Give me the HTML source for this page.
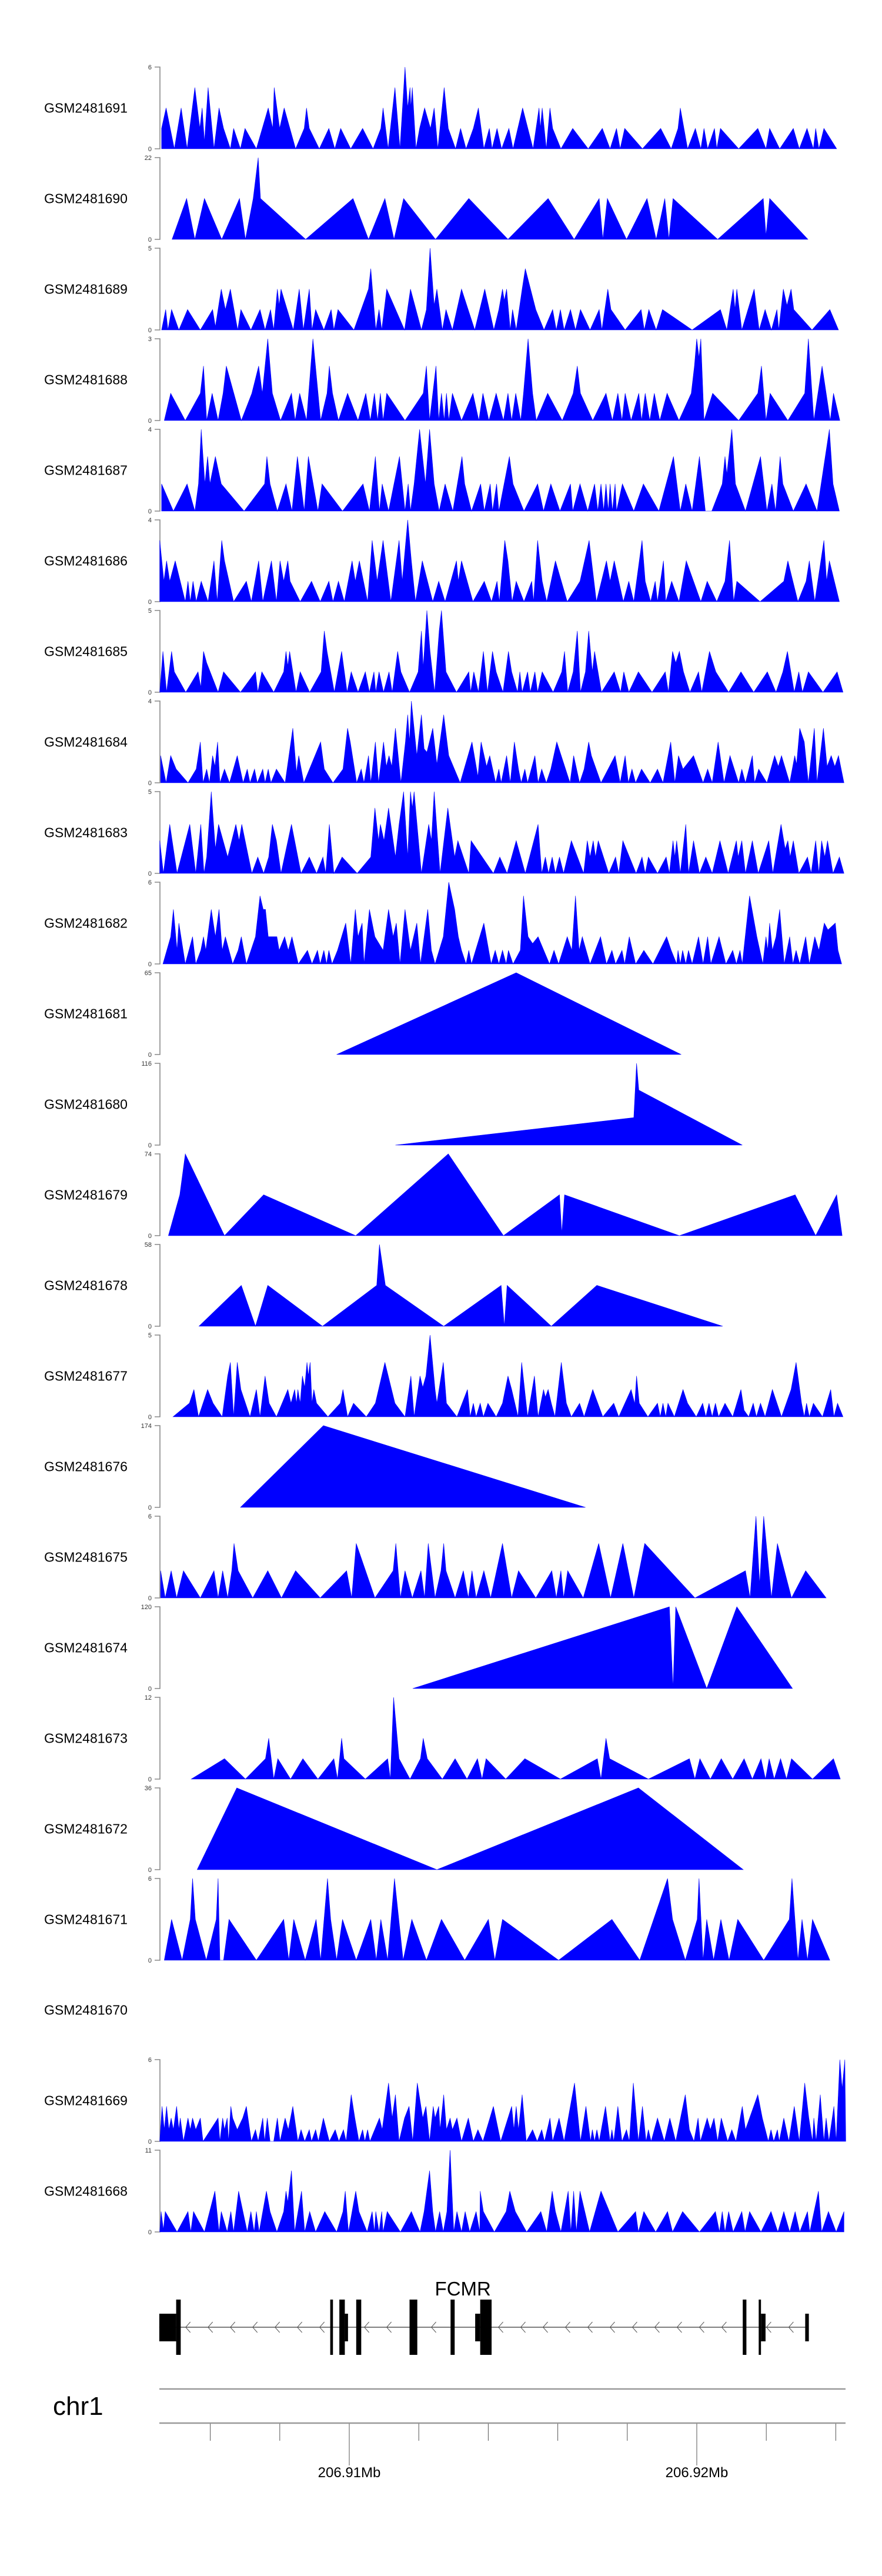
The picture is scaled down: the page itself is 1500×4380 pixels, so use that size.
<!DOCTYPE html>
<html><head><meta charset="utf-8"><title>Coverage tracks FCMR</title>
<style>
html,body{margin:0;padding:0;background:#fff;}
svg{display:block;}
text{font-family:"Liberation Sans",Arial,sans-serif;}
</style></head>
<body>
<svg id="chart" xmlns="http://www.w3.org/2000/svg" width="1500" height="4380" viewBox="0 0 1500 4380"></svg>
<script>
// ---- genomic binning of the coverage data ----
const BIN_START = 206904179;   // bp of bin 0
const BIN_SIZE = 13.117;       // bp per bin

// ---- track identifiers, y-maxima and axis labels ----
const trackIds = ["GSM2481691","GSM2481690","GSM2481689","GSM2481688","GSM2481687","GSM2481686","GSM2481685","GSM2481684","GSM2481683","GSM2481682","GSM2481681","GSM2481680","GSM2481679","GSM2481678","GSM2481677","GSM2481676","GSM2481675","GSM2481674","GSM2481673","GSM2481672","GSM2481671","GSM2481670","GSM2481669","GSM2481668"];
const trackMax = [6,22,5,3,4,4,5,4,5,6,65,116,74,58,5,174,6,120,12,36,6,0,7,11];
const trackMaxLabel = ["6","22","5","3","4","4","5","4","5","6","65","116","74","58","5","174","6","120","12","36","6","","6","11"];

// ---- coverage series: [bin, value] ----
const cov1691 = [[32,1.5],[42,3],[60,0],[75,3],[88,0],[105,4.5],[116,1.5],[121,3],[126,0.5],[134,4.5],[147,0],[158,3],[168,1.5],[183,0],[190,1.5],[205,0],[215,1.5],[240,0],[266,3],[276,1.5],[279,4.5],[291,1.5],[301,3],[326,0],[345,1.5],[350,3],[356,1.5],[378,0],[399,1.5],[412,0],[425,1.5],[447,0],[473,1.5],[496,0],[513,1.5],[518,3],[529,0],[544,4.5],[555,0],[566,6],[572,3],[577,4.5],[579,3],[582,4.5],[590,0],[598,1.5],[609,3],[622,1.5],[630,3],[638,0],[652,4.5],[661,1.5],[677,0],[688,1.5],[700,0],[716,1.5],[727,3],[739,0],[751,1.5],[757,0],[768,1.5],[778,0],[794,1.5],[803,0],[824,3],[847,0],[860,3],[863,1.5],[867,3],[876,0],[884,3],[890,1.5],[908,0],[934,1.5],[968,0],[999,1.5],[1016,0],[1030,1.5],[1038,0],[1048,1.5],[1087,0],[1127,1.5],[1150,0],[1165,1.5],[1170,3],[1186,0],[1203,1.5],[1215,0],[1222,1.5],[1230,0],[1245,1.5],[1250,0],[1258,1.5],[1298,0],[1340,1.5],[1358,0],[1366,1.5],[1388,0],[1418,1.5],[1431,0],[1448,1.5],[1462,0],[1467,1.5],[1474,0],[1485,1.5],[1513,0]];
const cov1690 = [[55,0],[87,11],[105,0],[126,11],[164,0],[203,11],[216,0],[233,11],[244,22],[249,11],[348,0],[452,11],[486,0],[522,11],[542,0],[563,11],[633,0],[706,11],[792,0],[880,11],[937,0],[992,11],[1000,0],[1010,11],[1052,0],[1097,11],[1117,0],[1136,11],[1145,0],[1154,11],[1252,0],[1352,11],[1358,1],[1366,11],[1450,0]];
const cov1689 = [[32,0],[41,1.25],[46,0],[54,1.25],[70,0],[89,1.25],[117,0],[144,1.25],[150,0.2],[163,2.5],[172,1.25],[183,2.5],[199,0],[206,1.25],[228,0],[248,1.25],[259,0],[271,1.25],[278,0],[286,2.5],[290,1.5],[294,2.5],[321,0],[334,2.5],[343,0],[356,2.5],[362,0],[370,1.25],[388,0],[404,1.25],[410,0],[419,1.25],[454,0],[486,2.5],[491,3.75],[502,0],[509,1.25],[515,0],[526,2.5],[565,0],[578,2.5],[602,0],[613,1.25],[621,5],[630,1.5],[636,2.5],[648,0],[656,1.25],[670,0],[690,2.5],[719,0],[741,2.5],[761,0],[772,1.25],[780,2.5],[784,1.8],[789,2.5],[797,0],[802,1.25],[810,0],[823,2.5],[830,3.75],[853,1.25],[871,0],[890,1.25],[898,0],[907,1.25],[915,0],[929,1.25],[940,0],[951,1.25],[972,0],[992,1.25],[998,0],[1011,2.5],[1018,1.25],[1049,0],[1084,1.25],[1091,0],[1101,1.25],[1117,0],[1131,1.25],[1196,0],[1258,1.25],[1272,0],[1286,2.5],[1290,1.25],[1294,2.5],[1305,0],[1332,2.5],[1343,0],[1356,1.25],[1370,0],[1382,1.25],[1386,0],[1396,2.5],[1404,1.5],[1413,2.5],[1419,1.25],[1459,0],[1498,1.25],[1517,0]];
const cov1688 = [[38,0],[52,1],[84,0],[117,1],[124,2],[131,0],[143,1],[156,0],[167,1],[174,2],[207,0],[230,1],[245,2],[253,1],[265,3],[275,1],[293,0],[317,1],[325,0],[335,1],[350,0],[364,3],[381,0],[395,1],[400,2],[407,1],[420,0],[440,1],[463,0],[480,1],[490,0],[499,1],[506,0],[512,1],[518,0],[526,1],[566,0],[606,1],[613,2],[620,0],[634,2],[640,0],[646,1],[652,0],[657,1],[662,0],[670,1],[690,0],[715,1],[728,0],[737,1],[750,0],[766,1],[782,0],[792,1],[800,0],[809,1],[820,0],[826,1],[836,3],[846,1],[854,0],[879,1],[911,0],[935,1],[944,2],[951,1],[978,0],[1007,1],[1021,0],[1033,1],[1042,0],[1049,1],[1062,0],[1079,1],[1085,0],[1093,1],[1103,0],[1113,1],[1125,0],[1141,1],[1167,0],[1194,1],[1201,2],[1206,3],[1211,2.3],[1215,3],[1222,0],[1241,1],[1298,0],[1340,1],[1348,2],[1358,0],[1367,1],[1406,0],[1443,1],[1451,3],[1463,0],[1481,2],[1499,0],[1506,1],[1520,0]];
const cov1687 = [[32,1.33],[58,0],[88,1.33],[105,0],[113,1.33],[119,4],[127,1.33],[133,2.67],[138,1.33],[150,2.67],[163,1.33],[213,0],[258,1.33],[263,2.67],[270,1.33],[286,0],[305,1.33],[318,0],[330,2.67],[345,0],[354,2.67],[375,0],[384,1.33],[429,0],[474,1.33],[488,0],[501,2.67],[510,0],[516,1.33],[530,0],[554,2.67],[566,0],[573,1.33],[578,0],[586,1.33],[598,4],[611,1.33],[620,4],[630,1.33],[641,0],[654,1.33],[671,0],[691,2.67],[697,1.33],[712,0],[732,1.33],[740,0],[753,1.33],[758,0],[767,1.33],[772,0],[795,2.67],[803,1.33],[827,0],[857,1.33],[870,0],[886,1.33],[906,0],[929,1.33],[934,0],[950,1.33],[967,0],[982,1.33],[989,0],[996,1.33],[1002,0],[1007,1.33],[1012,0],[1016,1.33],[1021,0],[1027,1.33],[1030,0],[1043,1.33],[1068,0],[1089,1.33],[1123,0],[1155,2.67],[1170,0],[1182,1.33],[1196,0],[1212,2.67],[1225,0],[1239,0],[1262,1.33],[1268,2.67],[1272,1.8],[1283,4],[1291,1.33],[1313,0],[1346,2.67],[1360,0],[1371,1.33],[1379,0],[1389,2.67],[1395,1.33],[1418,0],[1446,1.33],[1470,0],[1497,4],[1505,1.33],[1519,0]];
const cov1686 = [[28,3],[37,1],[43,2],[50,1],[62,2],[84,0],[90,1],[95,0],[101,1],[108,0],[119,1],[134,0],[147,2],[154,0],[164,3],[170,2],[190,0],[218,1],[229,0],[245,2],[254,0],[273,2],[284,0],[292,2],[300,1],[309,2],[314,1],[336,0],[361,1],[380,0],[399,1],[408,0],[420,1],[433,0],[450,2],[457,1],[466,2],[484,0],[494,3],[505,1],[518,3],[535,0],[553,3],[560,1],[572,4],[580,2],[589,0],[604,2],[627,0],[640,1],[654,0],[679,2],[683,1],[690,2],[715,0],[740,1],[756,0],[768,1],[773,0],[785,3],[792,2],[801,0],[810,1],[827,0],[844,1],[848,0],[857,3],[867,1],[877,0],[896,2],[922,0],[950,1],[970,3],[986,0],[1008,2],[1016,1],[1025,2],[1045,0],[1057,1],[1068,0],[1086,3],[1093,1],[1105,0],[1115,1],[1120,0],[1133,2],[1138,0],[1151,1],[1167,0],[1183,2],[1215,0],[1229,1],[1250,0],[1268,1],[1278,3],[1287,0],[1294,1],[1345,0],[1397,1],[1406,2],[1428,0],[1446,1],[1453,2],[1465,0],[1485,3],[1491,1],[1497,2],[1519,0]];
const cov1685 = [[28,0],[35,2.5],[43,0],[54,2.5],[60,1.25],[85,0],[112,1.25],[118,0.3],[124,2.5],[131,1.8],[156,0],[168,1.25],[205,0],[238,1.25],[243,0],[252,1.25],[278,0],[300,1.25],[305,2.5],[309,1.6],[313,2.5],[327,0],[336,1.25],[357,0],[382,1.25],[389,3.75],[395,2.5],[411,0],[427,2.5],[439,0],[448,1.25],[463,0],[479,1.25],[488,0],[498,1.25],[502,0],[509,1.25],[519,0],[531,1.25],[538,0],[550,2.5],[557,1.25],[576,0],[595,1.25],[602,3.75],[606,1.5],[614,5],[621,2.5],[631,0],[641,3.75],[646,5],[656,1.25],[679,0],[706,1.25],[710,0],[717,1.25],[727,0],[738,2.5],[747,0],[758,2.5],[766,1.25],[781,0],[793,2.5],[800,1.25],[813,0],[818,1.25],[823,0],[835,1.25],[841,0],[851,1.25],[857,0],[867,1.25],[891,0],[910,1.25],[916,2.5],[923,0],[935,1.25],[944,3.75],[951,0],[962,1.25],[969,3.75],[977,1.25],[982,2.5],[997,0],[1025,1.25],[1039,0],[1046,1.25],[1057,0],[1078,1.25],[1108,0],[1137,1.25],[1144,0],[1153,2.5],[1160,1.8],[1168,2.5],[1177,1.25],[1191,0],[1210,1.25],[1217,0],[1234,2.5],[1248,1.25],[1276,0],[1303,1.25],[1331,0],[1361,1.25],[1380,0],[1395,1.25],[1405,2.5],[1420,0],[1430,1.25],[1438,0],[1451,1.25],[1483,0],[1514,1.25],[1527,0]];
const cov1684 = [[30,1.33],[42,0],[52,1.33],[64,0.67],[90,0],[108,0.67],[117,2],[123,0],[131,0.67],[137,0],[144,1.33],[149,0.8],[155,2],[160,0],[170,0.67],[181,0],[198,1.33],[211,0],[220,0.67],[226,0],[236,0.67],[242,0],[254,0.67],[259,0],[266,0.67],[272,0],[284,0.67],[303,0],[320,2.67],[328,0.5],[333,1.33],[344,0],[381,2],[389,0.67],[408,0],[430,0.67],[440,2.67],[446,2],[460,0],[470,0.67],[476,0],[486,1.33],[491,0],[501,2],[508,0],[519,2],[525,0.8],[531,1.33],[537,0.8],[545,2.67],[557,0],[567,2],[572,3.33],[576,2],[580,4],[592,1.33],[602,3.33],[608,1.67],[614,1.5],[627,2.67],[636,0.9],[651,3.33],[662,1.33],[687,0],[713,2],[726,0.3],[733,2],[745,0.8],[752,1.33],[765,0],[772,0.67],[777,0],[789,1.33],[797,0],[806,2],[815,0.67],[821,0],[829,0.67],[835,0],[851,1.33],[858,0],[866,0.67],[876,0],[886,0.67],[899,2],[928,0],[936,1.33],[949,0],[959,0.67],[969,2],[975,1.33],[996,0],[1027,1.33],[1038,0],[1049,1.33],[1056,0],[1064,0.67],[1072,0],[1085,0.67],[1104,0],[1120,0.67],[1132,0],[1149,2],[1158,0],[1166,1.33],[1176,0.67],[1199,1.33],[1220,0],[1230,0.67],[1240,0],[1253,2],[1266,0],[1279,1.33],[1298,0],[1305,0.67],[1313,0],[1328,1.33],[1333,0],[1342,0.67],[1360,0],[1377,1.33],[1385,0.8],[1392,1.33],[1410,0],[1421,1.33],[1425,0.9],[1432,2.67],[1442,2],[1451,0],[1464,2.67],[1470,0],[1484,2.67],[1492,0.8],[1501,1.33],[1509,0.8],[1517,1.33],[1529,0]];
const cov1683 = [[28,2],[36,0],[50,3],[66,0],[94,3],[107,0],[118,3],[125,0],[131,1],[141,5],[150,1.5],[157,3],[177,1],[195,3],[202,2],[208,3],[230,0],[243,1],[256,0],[267,1],[275,3],[284,2],[294,0],[317,3],[338,0],[356,1],[372,0],[386,1],[392,0],[400,3],[410,0],[428,1],[461,0],[491,1],[500,4],[508,2],[512,3],[520,2],[530,4],[545,1],[553,3],[563,5],[572,1],[578,5],[582,4],[586,5],[602,0],[618,3],[624,2],[630,5],[643,0],[660,4],[675,1],[682,2],[706,0],[711,2],[760,0],[774,1],[790,0],[810,2],[830,0],[858,3],[866,0],[874,1],[881,0],[889,1],[896,0],[905,1],[914,0],[931,2],[958,0],[966,2],[972,1],[979,2],[984,1],[990,2],[1013,0],[1028,1],[1035,0],[1044,2],[1073,0],[1086,1],[1093,0],[1100,1],[1120,0],[1139,1],[1146,0],[1154,2],[1158,1],[1162,2],[1170,0],[1182,3],[1188,0],[1199,2],[1212,0],[1226,1],[1240,0],[1257,2],[1275,0],[1293,2],[1297,1],[1305,2],[1313,0],[1328,2],[1341,0],[1364,2],[1373,0],[1391,3],[1400,1.5],[1406,2],[1411,1],[1418,2],[1430,0],[1449,1],[1457,0],[1467,2],[1474,0],[1480,2],[1487,1],[1493,2],[1505,0],[1519,1],[1529,0]];
const cov1682 = [[35,0],[52,2],[58,4],[66,1],[70,3],[84,0],[100,2],[107,0],[118,1],[124,2],[129,1],[141,4],[150,2],[158,4],[165,1],[172,2],[188,0],[200,1],[207,2],[218,0],[238,2],[248,5],[255,4],[260,4],[266,2],[285,2],[290,1],[302,2],[310,1],[318,2],[332,0],[352,1],[362,0],[374,1],[380,0],[388,1],[394,0],[399,1],[406,0],[418,1],[436,3],[447,0],[457,4],[463,2],[472,3],[476,0],[488,4],[500,2],[518,1],[530,4],[540,2],[547,3],[555,0],[566,4],[578,1],[585,2],[592,3],[600,0],[616,4],[624,1],[632,0],[650,2],[662,6],[675,4],[683,2],[690,1],[700,0],[706,1],[712,0],[739,3],[755,0],[764,1],[772,0],[780,1],[788,0],[793,1],[803,0],[819,1],[826,5],[836,2],[846,1.5],[858,2],[883,0],[893,1],[903,0],[922,2],[932,1],[940,5],[948,1],[955,2],[972,0],[995,2],[1008,0],[1020,1],[1028,0],[1042,1],[1048,0],[1058,2],[1072,0],[1090,1],[1110,0],[1140,2],[1150,1],[1162,0],[1165,1],[1170,0],[1175,1],[1182,0],[1188,1],[1196,0],[1210,2],[1220,0],[1230,2],[1237,0],[1255,2],[1270,0],[1285,1],[1293,0],[1301,1],[1306,0],[1322,5],[1338,2],[1351,0],[1358,2],[1362,1],[1366,3],[1372,1],[1380,2],[1388,4],[1398,0],[1410,2],[1417,0],[1424,1],[1432,0],[1445,2],[1453,0],[1465,2],[1474,1],[1486,3],[1494,2.5],[1510,3],[1516,1],[1524,0]];
const cov1681 = [[416,0],[810,65],[1172,0]];
const cov1680 = [[545,0],[1068,39],[1074,116],[1079,78],[1306,0]];
const cov1679 = [[47,0],[72,37],[84,74],[170,0],[256,37],[458,0],[661,74],[782,0],[905,37],[910,2],[916,37],[1168,0],[1422,37],[1467,0],[1513,37],[1525,0]];
const cov1678 = [[114,0],[207,29],[238,0],[265,29],[385,0],[504,29],[510,58],[523,29],[651,0],[777,29],[784,0],[790,29],[887,0],[987,29],[1263,0]];
const cov1677 = [[57,0],[93,0.83],[103,1.67],[113,0],[133,1.67],[145,0.83],[165,0],[177,2.5],[183,3.33],[190,0],[198,3.33],[206,1.67],[226,0],[240,1.67],[248,0],[259,2.5],[268,0.83],[284,0],[309,1.67],[316,0.83],[324,1.67],[328,0.83],[331,1.67],[336,0.83],[341,2.5],[346,1.8],[351,3.33],[354,2.5],[358,3.33],[362,0.83],[366,1.67],[372,0.83],[397,0],[424,0.83],[430,1.67],[440,0],[453,0.83],[481,0],[501,0.83],[522,3.33],[544,0.83],[566,0],[579,2.5],[586,0],[599,2.5],[605,1.8],[612,2.5],[621,5],[632,1.67],[636,0.83],[650,3.33],[657,0.83],[680,0],[703,1.67],[709,0],[716,0.83],[722,0],[731,0.83],[738,0],[748,0.83],[766,0],[780,0.83],[792,2.5],[800,1.67],[814,0],[822,3.33],[835,0],[850,2.5],[858,0],[870,1.67],[874,1.2],[880,1.67],[887,0.83],[895,0],[909,3.33],[920,0.83],[931,0],[949,0.83],[959,0],[978,1.67],[1000,0],[1024,0.83],[1035,0],[1062,1.67],[1070,0.8],[1074,2.5],[1080,0.83],[1099,0],[1120,0.83],[1126,0],[1132,0.83],[1138,0],[1143,0.83],[1157,0],[1176,1.67],[1186,0.83],[1205,0],[1219,0.83],[1226,0],[1233,0.83],[1240,0],[1247,0.83],[1254,0],[1268,0.83],[1285,0],[1303,1.67],[1310,0.4],[1320,0],[1330,0.83],[1337,0],[1346,0.83],[1356,0],[1372,1.67],[1392,0],[1413,1.67],[1424,3.33],[1436,0.83],[1442,0],[1447,0.83],[1453,0],[1462,0.83],[1482,0],[1500,1.67],[1507,0],[1515,0.83],[1527,0]];
const cov1676 = [[205,0],[387,174],[962,0]];
const cov1675 = [[30,2],[40,0],[53,2],[65,0],[80,2],[117,0],[147,2],[156,0],[166,2],[177,0],[186,2],[191,4],[200,2],[232,0],[265,2],[295,0],[326,2],[380,0],[438,2],[449,0],[459,4],[500,0],[540,2],[546,4],[556,0],[566,2],[582,0],[601,2],[609,0],[617,4],[632,0],[645,2],[651,4],[656,2],[676,0],[694,2],[705,0],[713,2],[722,0],[739,2],[754,0],[780,4],[800,0],[815,2],[853,0],[888,2],[898,0],[908,2],[914,0],[923,2],[957,0],[991,4],[1017,0],[1044,4],[1068,0],[1092,4],[1202,0],[1313,2],[1323,0],[1336,6],[1344,1],[1353,6],[1370,0],[1383,4],[1414,0],[1445,2],[1490,0]];
const cov1674 = [[583,0],[1146,120],[1154,0],[1160,120],[1228,0],[1294,120],[1416,0]];
const cov1673 = [[97,0],[170,3],[216,0],[260,3],[267,6],[278,0],[287,3],[315,0],[342,3],[375,0],[410,3],[418,0],[427,6],[432,3],[479,0],[528,3],[534,0],[541,12],[553,3],[577,0],[600,3],[606,6],[615,3],[648,0],[676,3],[702,0],[725,3],[735,0],[744,3],[787,0],[829,3],[907,0],[988,3],[996,0],[1007,6],[1015,3],[1100,0],[1190,3],[1202,0],[1213,3],[1236,0],[1260,3],[1285,0],[1310,3],[1328,0],[1347,3],[1357,0],[1365,3],[1376,0],[1390,3],[1403,0],[1414,3],[1460,0],[1506,3],[1521,0]];
const cov1672 = [[110,0],[197,36],[636,0],[1078,36],[1308,0]];
const cov1671 = [[38,0],[54,3],[77,0],[95,3],[100,6],[106,3],[130,0],[152,3],[156,6],[160,0],[168,0],[180,3],[240,0],[300,3],[311,0],[322,3],[347,0],[371,3],[381,0],[396,6],[403,3],[416,0],[429,3],[459,0],[491,3],[503,0],[513,3],[528,0],[543,6],[562,0],[581,3],[613,0],[646,3],[697,0],[749,3],[763,0],[780,3],[903,0],[1020,3],[1081,0],[1142,6],[1153,3],[1181,0],[1207,3],[1211,6],[1220,0],[1228,3],[1243,0],[1259,3],[1277,0],[1296,3],[1353,0],[1409,3],[1415,6],[1428,0],[1437,3],[1449,0],[1460,3],[1498,0]];
const cov1670 = [];
const cov1669 = [[28,0],[33,3],[38,1],[43,3],[48,1],[53,2],[58,1],[65,3],[70,1],[73,2],[80,0],[90,2],[95,1],[100,2],[107,1],[117,2],[123,0],[156,2],[160,0],[166,2],[170,1],[176,2],[179,0],[184,3],[188,2],[198,1],[210,2],[218,3],[229,0],[238,1],[244,0],[254,2],[258,0],[264,2],[270,0],[278,0],[286,2],[292,0],[303,2],[310,1],[320,3],[331,0],[338,1],[346,0],[356,1],[361,0],[370,1],[376,0],[387,2],[400,0],[413,1],[421,0],[431,1],[437,0],[448,4],[456,2],[465,0],[473,1],[478,0],[484,1],[489,0],[510,2],[516,1],[530,5],[538,2],[545,4],[553,0],[565,2],[575,3],[583,0],[593,5],[605,2],[612,3],[620,0],[628,3],[632,2],[640,3],[643,1],[651,4],[657,1],[665,2],[670,1],[680,2],[690,0],[705,2],[716,0],[726,1],[737,0],[760,3],[776,0],[800,3],[805,1],[810,3],[815,1],[823,4],[832,0],[846,1],[856,0],[866,1],[872,0],[884,2],[890,0],[904,2],[915,0],[938,5],[951,0],[963,3],[973,0],[977,1],[982,0],[987,1],[992,0],[1006,3],[1016,0],[1020,1],[1024,0],[1033,3],[1042,0],[1052,1],[1058,0],[1067,5],[1078,0],[1087,3],[1095,0],[1100,1],[1106,0],[1120,2],[1135,0],[1147,2],[1160,0],[1181,4],[1190,1],[1200,0],[1209,2],[1214,0],[1229,2],[1236,1],[1244,2],[1252,0],[1260,2],[1274,0],[1283,1],[1292,0],[1306,3],[1313,1],[1340,4],[1350,2],[1363,0],[1369,1],[1375,0],[1383,1],[1387,0],[1397,2],[1408,0],[1420,3],[1431,0],[1443,5],[1452,2],[1460,0],[1463,2],[1468,0],[1477,4],[1485,0],[1490,2],[1496,0],[1507,3],[1512,0],[1520,7],[1525,4.5],[1531,7],[1533,0]];
const cov1668 = [[28,0],[31,2.75],[36,0.3],[40,2.75],[66,0],[90,2.75],[96,0],[102,2.75],[126,0],[149,5.5],[158,0],[163,2.75],[176,0],[184,2.75],[190,0],[201,5.5],[220,0],[228,2.75],[235,0],[240,2.75],[246,0],[262,5.5],[270,2.75],[285,0],[300,2.75],[305,5.5],[309,4],[317,8.25],[324,0],[339,5.5],[346,0],[357,2.75],[370,0],[390,2.75],[416,0],[430,2.75],[435,5.5],[442,0],[458,5.5],[465,2.75],[483,0],[494,2.75],[499,0],[502,2.75],[509,0],[515,2.75],[518,0],[527,2.75],[556,0],[580,2.75],[599,0],[608,2.75],[620,8.25],[627,2.75],[633,0],[642,2.75],[650,0],[658,2.75],[665,11],[673,0],[680,2.75],[690,0],[698,2.75],[708,0],[722,2.75],[730,0],[731,5.5],[738,2.75],[762,0],[788,2.75],[796,5.5],[808,2.75],[833,0],[864,2.75],[877,0],[889,5.5],[896,2.75],[908,0],[924,5.5],[930,0],[936,5.5],[942,0],[950,5.5],[971,0],[996,5.5],[1033,0],[1072,2.75],[1078,0],[1090,2.75],[1116,0],[1142,2.75],[1153,0],[1175,2.75],[1212,0],[1247,2.75],[1256,0],[1262,2.75],[1268,0],[1276,2.75],[1286,0],[1305,2.75],[1312,0],[1322,2.75],[1347,0],[1369,2.75],[1384,0],[1397,2.75],[1410,0],[1422,2.75],[1432,0],[1449,2.75],[1454,0],[1473,5.5],[1480,0],[1495,2.75],[1512,0],[1529,2.75]];

const trackSeries = [cov1691,cov1690,cov1689,cov1688,cov1687,cov1686,cov1685,cov1684,cov1683,cov1682,cov1681,cov1680,cov1679,cov1678,cov1677,cov1676,cov1675,cov1674,cov1673,cov1672,cov1671,cov1670,cov1669,cov1668];

// ---- gene model FCMR (bins) ----
const exonStart = [27,64,402,422,434,459,576,666,720,731,1307,1342,1347,1444];
const exonEnd   = [64,74,408,434,441,470,593,675,731,756,1315,1347,1357,1452];
const exonIsUTR = [1,0,0,0,1,0,0,0,1,0,0,0,1,1];
const geneSpan = [27,1450];

// ---- genome axis ticks (bp) ----
const axisTicks = [206906000,206908000,206910000,206912000,206914000,206916000,206918000,206920000,206922000,206924000];
const axisLabelTicks = [206910000,206920000];
const axisLabels = ["206.91Mb","206.92Mb"];

// ---- scales ----
const X_REF_BP = 206910000, X_REF_PX = 594, PX_PER_BP = 0.0591;
function xBp(bp){ return X_REF_PX + (bp - X_REF_BP) * PX_PER_BP; }
function xBin(b){ return xBp(BIN_START + b * BIN_SIZE); }
const TRACK_TOP0 = 114, TRACK_PITCH = 154, TRACK_H = 139, AXIS_X = 272;
function trackTop(i){ return TRACK_TOP0 + i * TRACK_PITCH; }
function yVal(i, v){ return trackTop(i) + TRACK_H - (v / trackMax[i]) * TRACK_H; }

const NS = "http://www.w3.org/2000/svg";
const svg = document.getElementById("chart");
function mk(tag, attrs, parent){
  const e = document.createElementNS(NS, tag);
  for (const k in attrs) e.setAttribute(k, attrs[k]);
  (parent || svg).appendChild(e);
  return e;
}

// ---- tracks ----
trackIds.forEach((id, i) => {
  const g = mk("g", {});
  
  
  const top = trackTop(i), base = top + TRACK_H;
  const lab = mk("text", {x: 75, y: top + TRACK_H/2 + 8, "font-size": 23, fill: "#000"}, g);
  lab.textContent = id;
  
  
  const series = trackSeries[i];
  if (!series.length) return;
  // y axis
  const ax = mk("path", {d: `M${AXIS_X-9},${top}H${AXIS_X}V${base}H${AXIS_X-9}`, stroke: "#888", "stroke-width": 1.6, fill: "none"}, g);
  
  
  const tMax = mk("text", {x: AXIS_X-14, y: top+4, "font-size": 11, "text-anchor": "end", fill: "#333"}, g);
  tMax.textContent = trackMaxLabel[i];
  
  
  const t0 = mk("text", {x: AXIS_X-14, y: base+4, "font-size": 11, "text-anchor": "end", fill: "#333"}, g);
  t0.textContent = "0";
  
  
  // area
  let d = `M${xBin(series[0][0]).toFixed(1)},${base}`;
  series.forEach(p => { d += `L${xBin(p[0]).toFixed(1)},${yVal(i, Math.min(p[1], trackMax[i])).toFixed(1)}`; });
  d += `L${xBin(series[series.length-1][0]).toFixed(1)},${base}Z`;
  const area = mk("path", {d: d, fill: "#0000ff", stroke: "#0000ff", "stroke-width": 0.6}, g);
  
  
});

// ---- gene track ----
const gg = mk("g", {});


const MID = 3957;
const gname = mk("text", {x: xBin(693), y: 3903, "font-size": 33, "text-anchor": "middle", fill: "#000"}, gg);
gname.textContent = "FCMR";


const intron = mk("line", {x1: xBin(geneSpan[0]), x2: xBin(geneSpan[1]), y1: MID, y2: MID, stroke: "#333", "stroke-width": 1.3}, gg);


for (let b = geneSpan[0] + 63; b < geneSpan[1] - 10; b += 49) {
  const inside = exonStart.some((s, k) => b >= s - 3 && b <= exonEnd[k] + 3);
  if (inside) continue;
  const x = xBin(b);
  const ar = mk("path", {d: `M${x+4},${MID-9}L${x-4},${MID}L${x+4},${MID+9}`, stroke: "#555", "stroke-width": 1, fill: "none"}, gg);
  
  
}
exonStart.forEach((s, k) => {
  const utr = exonIsUTR[k];
  const y0 = utr ? 3934 : 3910, y1 = utr ? 3981 : 4004;
  const r = mk("rect", {x: xBin(s), y: y0, width: Math.max(2.5, xBin(exonEnd[k]) - xBin(s)), height: y1 - y0, fill: "#000"}, gg);
  
  
});

// ---- genome axis ----
const ga = mk("g", {});


const chr = mk("text", {x: 90, y: 4106, "font-size": 44, fill: "#000"}, ga);
chr.textContent = "chr1";


const l1 = mk("line", {x1: 271, x2: 1438, y1: 4062, y2: 4062, stroke: "#999", "stroke-width": 2.5}, ga);


const l2 = mk("line", {x1: 271, x2: 1438, y1: 4120, y2: 4120, stroke: "#999", "stroke-width": 2.5}, ga);


axisTicks.forEach(t => {
  const long = axisLabelTicks.includes(t);
  const tk = mk("line", {x1: xBp(t), x2: xBp(t), y1: 4121, y2: long ? 4192 : 4150, stroke: "#555", "stroke-width": 1}, ga);
  
  
});
axisLabelTicks.forEach((t, k) => {
  const tl = mk("text", {x: xBp(t), y: 4212, "font-size": 24, "text-anchor": "middle", fill: "#000"}, ga);
  tl.textContent = axisLabels[k];
  
  
});
</script>
</body></html>
